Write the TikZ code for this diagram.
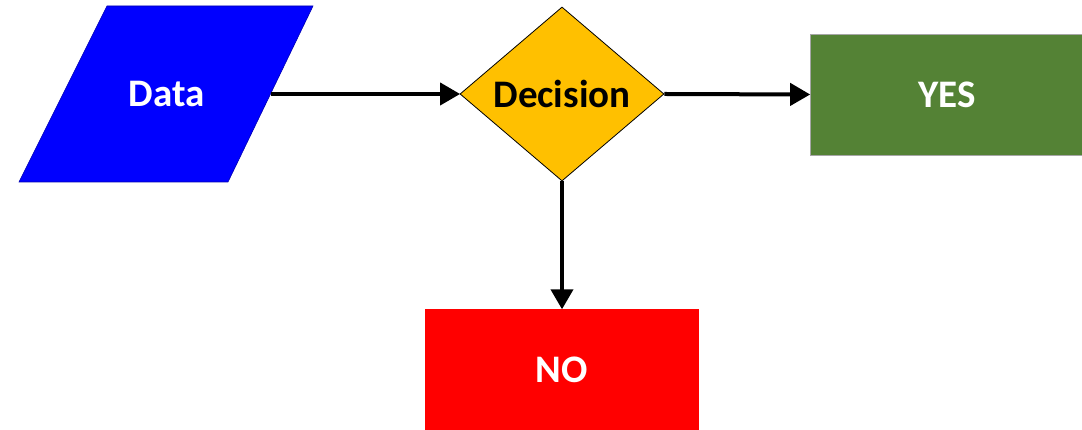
\documentclass[tikz,border=0pt]{standalone}
\usepackage{fontspec}
\setmainfont{Carlito}
\usetikzlibrary{shapes.geometric,arrows.meta}
\definecolor{dblue}{HTML}{0000FF}
\definecolor{dyellow}{HTML}{FFC000}
\definecolor{dgreen}{HTML}{548235}
\definecolor{dred}{HTML}{FF0000}
\tikzset{
  lbl/.style={font=\bfseries\fontsize{39}{46}\selectfont},
  boxnode/.style={rectangle, minimum width=274pt, minimum height=121pt, inner sep=0pt, lbl, text=white},
  conn/.style={line width=4pt, -{Triangle[length=20pt,width=22pt]}, shorten >=-0.5pt}
}
\begin{document}
\begin{tikzpicture}[x=1pt,y=1pt]
  \useasboundingbox (0,0) rectangle (1082,430);
  \clip (0,0) rectangle (1082,430);
  \fill[white] (0,0) rectangle (1082,430);
  % Data parallelogram
  \draw[fill=dblue, draw=blue!70!black, line width=0.6pt] (107,424) -- (313,424) -- (228,248) -- (19,248) -- cycle;
  \node[lbl, text=white] (data) at (166.5,336) {Data};
  \coordinate (dataE) at (270.5,336);
  % Decision diamond
  \node[diamond, fill=dyellow, draw=black, line width=0.8pt, minimum width=204pt, minimum height=174pt, inner sep=0pt, lbl, text=black] (dec) at (562,336) {Decision};
  % YES
  \node[boxnode, fill=dgreen, draw=gray!70, line width=0.6pt] (yes) at (947,335.5) {YES};
  % NO
  \node[boxnode, fill=dred] (no) at (562,60.5) {NO};
  % connectors
  \draw[conn] (dataE) -- (dec.west);
  \draw[conn] (dec.east) -- (yes.west);
  \draw[conn] (dec.south) -- (no.north);
\end{tikzpicture}
\end{document}
